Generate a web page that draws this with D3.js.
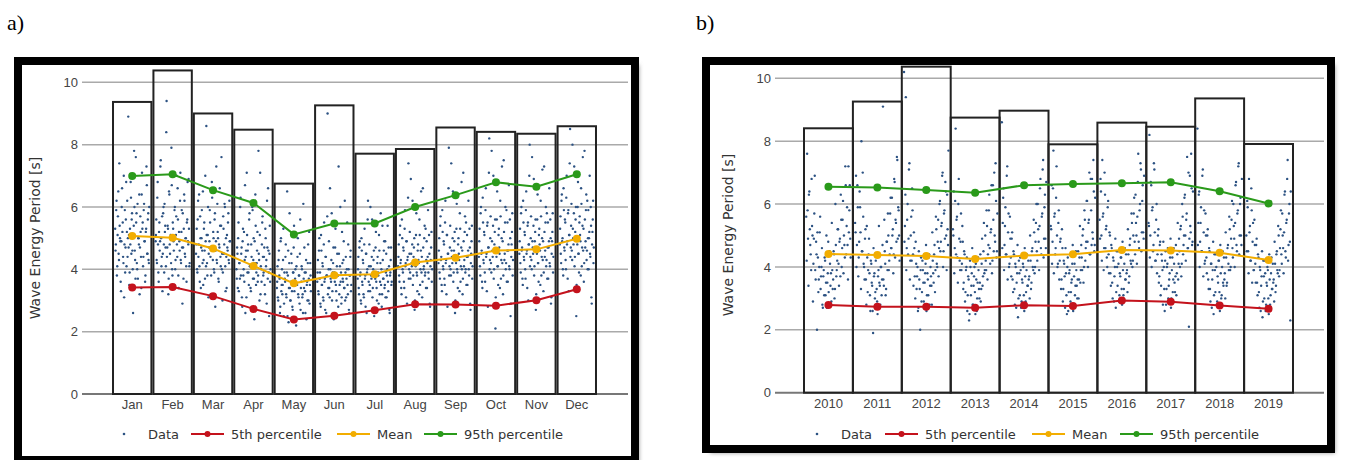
<!DOCTYPE html>
<html>
<head>
<meta charset="utf-8">
<script src="https://cdn.jsdelivr.net/npm/d3@7"></script>
<style>
  body { margin: 0; background: #fff; }
  svg { display: block; font-family: "DejaVu Sans", Verdana, sans-serif; }
</style>
</head>
<body>
<svg id="chart" width="1346" height="460"></svg>
<script>
// ---- panel a: by month ----
const months = ['Jan', 'Feb', 'Mar', 'Apr', 'May', 'Jun', 'Jul', 'Aug', 'Sep', 'Oct', 'Nov', 'Dec']
const monthMax = [9.37, 10.38, 9.0, 8.48, 6.75, 9.26, 7.71, 7.86, 8.55, 8.41, 8.35, 8.59]
const monthP5 = [3.42, 3.43, 3.14, 2.73, 2.39, 2.51, 2.69, 2.88, 2.87, 2.83, 3.01, 3.36]
const monthMean = [5.07, 5.01, 4.67, 4.11, 3.55, 3.81, 3.84, 4.22, 4.37, 4.6, 4.64, 4.98]
const monthP95 = [6.99, 7.05, 6.54, 6.13, 5.12, 5.47, 5.47, 6.0, 6.38, 6.79, 6.65, 7.05]
const monthData = [
  '5.3 4.8 6.2 4.1 5.7 4.5 7.4 5.0 3.6 4.9 6.6 5.5 4.2 3.1 5.9 4.7 6.8 5.2 4.4 8.9 5.1 3.9 4.8 6.3 5.6 4.6 2.6 5.4 6.0 4.3 7.6 5.8 4.0 3.7 5.0 6.4 4.7 5.2 3.4 7.1 5.5 4.4 6.1 4.9 3.8 5.3 6.7 4.5 5.8 4.2',
  '4.9 5.6 4.2 6.8 3.9 5.2 4.6 7.3 5.0 4.4 3.3 5.8 4.8 6.1 5.4 4.1 9.4 4.7 5.3 3.7 6.4 4.5 5.1 7.9 4.0 5.5 4.9 3.5 6.0 4.3 5.7 4.8 6.6 3.8 5.2 4.6 7.1 4.2 5.9 2.9 4.7 5.3 6.2 4.4 5.0 3.6 5.6 4.9 6.9 4.1',
  '4.5 5.3 3.9 6.2 4.8 4.1 5.7 3.4 5.0 4.6 6.5 4.3 5.5 3.7 4.9 8.6 4.2 5.1 3.1 4.7 5.9 4.4 3.8 6.8 4.6 5.2 4.0 5.6 2.8 4.9 4.3 6.1 5.0 3.6 4.7 5.4 4.1 7.6 4.5 3.9 5.3 4.8 6.0 3.3 4.4 5.1 4.6 5.8 4.2 4.9',
  '4.0 4.7 3.4 5.5 4.2 3.7 6.3 4.5 3.1 4.9 3.8 5.2 4.3 2.6 4.6 7.1 3.9 4.8 3.5 5.8 4.1 3.3 4.4 6.0 3.7 5.0 2.4 4.2 5.4 3.9 4.6 3.6 7.8 4.3 5.1 3.2 4.0 4.8 5.7 3.8 4.4 3.5 5.3 4.1 2.9 4.7 6.6 3.9 4.5 3.6',
  '3.4 4.1 3.0 4.6 3.7 2.8 5.0 3.5 3.2 4.3 2.5 3.9 3.6 4.8 3.1 6.5 3.8 2.3 4.2 3.4 3.0 4.5 3.3 2.7 3.9 5.4 3.6 4.0 2.2 3.5 4.4 3.2 3.8 2.9 5.6 3.4 4.1 3.1 2.6 3.7 4.7 3.3 3.9 2.4 3.6 4.2 3.0 5.2 3.5 3.8',
  '3.6 4.3 3.2 5.0 3.9 2.8 4.6 3.5 4.1 3.0 5.5 3.7 4.4 2.6 3.8 9.0 3.4 4.9 3.1 4.0 3.6 5.8 3.3 4.2 2.4 3.9 4.7 3.5 3.0 4.5 3.8 7.3 3.2 4.1 3.6 2.9 5.2 3.7 4.3 3.4 6.2 3.9 3.1 4.0 3.5 4.8 2.7 3.8 4.4 3.3',
  '3.7 4.4 3.2 4.9 3.9 2.9 4.6 3.5 4.2 3.1 5.3 3.8 4.5 2.6 4.0 6.2 3.6 4.8 3.3 4.1 3.7 5.6 3.4 4.3 2.5 3.9 4.7 3.6 3.0 4.4 3.8 5.1 3.2 4.2 3.5 2.8 5.4 3.7 4.6 3.4 4.9 3.9 3.1 4.0 3.6 4.7 2.7 3.8 4.3 3.5',
  '4.1 4.8 3.6 5.4 4.3 3.2 5.0 3.9 4.6 3.4 5.9 4.2 4.9 2.9 4.4 7.4 4.0 5.2 3.7 4.5 4.1 6.2 3.8 4.7 2.7 4.3 5.1 3.9 3.3 4.8 4.2 5.6 3.5 4.6 3.9 3.1 6.6 4.0 5.0 3.8 5.3 4.3 3.4 4.4 3.9 5.1 2.9 4.1 4.7 3.6',
  '4.2 5.0 3.7 5.7 4.4 3.3 5.2 4.0 4.8 3.5 6.2 4.3 5.1 2.8 4.5 7.9 4.1 5.4 3.8 4.6 4.2 6.5 3.9 4.9 2.6 4.4 5.3 4.0 3.4 5.0 4.3 5.8 3.6 4.7 4.0 3.2 7.1 4.1 5.2 3.9 5.5 4.4 3.5 4.6 4.0 5.3 2.9 4.2 4.9 3.7',
  '4.4 5.3 3.8 6.0 4.6 3.4 5.5 4.2 5.1 3.6 6.6 4.5 5.4 2.8 4.7 8.2 4.3 5.7 3.9 4.9 4.4 7.0 4.0 5.2 2.1 4.6 5.6 4.1 3.5 5.3 4.5 6.2 3.7 5.0 4.2 3.2 7.5 4.3 5.5 4.0 5.9 4.6 3.6 4.8 4.1 5.6 2.5 4.4 5.2 3.8',
  '4.5 5.3 3.9 6.0 4.7 3.5 5.5 4.3 5.1 3.7 6.5 4.6 5.4 3.0 4.8 8.0 4.4 5.7 4.0 4.9 4.5 6.9 4.1 5.2 2.7 4.6 5.6 4.2 3.6 5.3 4.6 6.2 3.8 5.0 4.3 3.3 7.3 4.4 5.5 4.1 5.8 4.7 3.7 4.9 4.2 5.6 2.9 4.5 5.2 3.9',
  '4.8 5.7 4.2 6.4 5.0 3.8 5.9 4.6 5.5 4.0 7.0 4.9 5.8 3.3 5.1 8.5 4.7 6.1 4.3 5.3 4.8 7.3 4.4 5.6 2.5 5.0 6.0 4.5 3.9 5.7 4.9 6.6 4.1 5.4 4.6 3.6 7.8 4.7 5.9 4.3 6.2 5.0 4.0 5.2 4.5 6.0 3.1 4.8 5.6 4.2'
]
const monthData2 = [
  '4.6 5.9 3.8 5.1 6.5 4.3 5.4 4.9 3.3 6.0 5.2 4.4 7.0 4.8 3.9 5.6 4.1 6.2 5.0 4.7 3.5 5.3 6.8 4.5 5.8 4.0 5.1 7.8 4.6 3.7 5.5 4.2 6.1 5.0 4.8 3.2 5.7 4.4 6.4 5.3 4.1 5.9 4.9 3.6 5.2 7.3 4.5 5.6 4.3 6.0',
  '5.1 4.3 6.3 4.8 3.6 5.5 4.9 7.5 4.1 5.7 4.5 6.0 3.9 5.2 4.7 8.4 4.4 5.4 3.2 6.5 4.8 5.0 4.2 6.7 3.8 5.3 4.6 5.9 4.0 5.1 7.0 4.4 5.6 3.4 4.9 6.2 4.3 5.2 4.7 5.8 3.7 6.4 4.5 5.0 4.1 5.5 6.8 4.8 5.3 4.2',
  '4.8 4.0 5.6 4.4 6.4 3.6 5.0 4.7 5.9 4.2 3.5 5.3 4.6 7.0 4.1 5.1 3.8 6.0 4.5 4.9 5.5 3.2 4.7 6.3 4.3 5.0 3.9 5.8 4.6 7.3 4.2 5.2 3.7 4.8 6.6 4.4 5.4 4.0 3.0 5.7 4.5 6.1 4.1 5.0 3.4 4.7 5.5 4.3 6.2 4.9',
  '3.7 4.5 5.0 3.3 4.2 6.0 3.8 4.7 2.8 5.3 4.0 3.6 6.7 4.4 3.1 5.1 4.6 3.9 5.6 4.1 3.4 4.8 2.7 5.9 4.3 3.7 4.9 6.4 3.5 4.2 5.2 3.8 4.5 3.0 7.1 4.1 3.6 5.5 4.4 3.9 4.7 3.2 5.0 4.3 6.2 3.7 4.6 2.5 5.4 4.0',
  '3.6 3.1 4.3 3.8 2.6 4.9 3.3 4.0 3.5 5.3 2.9 3.7 4.4 3.2 3.9 2.5 4.6 3.4 5.8 3.0 3.6 4.2 2.8 3.9 4.7 3.3 3.7 2.4 4.1 3.5 5.0 3.1 3.8 4.5 2.7 3.6 4.0 3.2 6.1 3.4 3.9 2.6 4.3 3.5 3.0 4.8 3.7 2.9 4.2 3.3',
  '3.9 3.3 4.6 3.7 2.9 5.1 3.5 4.2 3.1 4.8 3.6 2.7 4.4 3.8 5.7 3.2 4.0 3.4 6.6 3.7 4.3 3.0 3.9 4.7 2.5 3.6 5.3 3.3 4.1 3.8 2.8 4.5 3.5 6.0 3.9 3.1 4.2 3.6 4.9 3.4 3.0 4.4 3.7 5.5 3.2 4.0 2.6 3.8 4.6 3.5',
  '4.0 3.4 4.7 3.8 3.0 5.0 3.6 4.3 3.2 4.8 3.7 2.8 4.5 3.9 5.6 3.3 4.1 3.5 6.0 3.8 4.4 3.1 4.0 4.6 2.7 3.7 5.2 3.4 4.2 3.9 2.9 4.6 3.6 5.8 4.0 3.2 4.3 3.7 4.9 3.5 3.1 4.5 3.8 5.4 3.3 4.1 2.6 3.9 4.7 3.6',
  '4.4 3.8 5.1 4.2 3.4 5.6 4.0 4.7 3.6 5.3 4.1 3.1 4.9 4.3 6.3 3.7 4.5 3.9 6.9 4.2 4.8 3.5 4.4 5.0 3.0 4.1 5.8 3.8 4.6 4.3 3.2 5.1 4.0 6.5 4.4 3.6 4.7 4.1 5.4 3.9 3.4 4.9 4.2 5.9 3.7 4.5 2.8 4.3 5.2 4.0',
  '4.6 3.9 5.4 4.3 3.5 5.9 4.1 4.9 3.7 5.5 4.2 3.2 5.1 4.5 6.6 3.8 4.7 4.0 7.4 4.4 5.0 3.6 4.6 5.2 3.0 4.2 6.1 3.9 4.8 4.5 3.3 5.3 4.1 6.8 4.6 3.7 4.9 4.3 5.7 4.0 3.5 5.1 4.4 6.2 3.8 4.7 2.7 4.5 5.4 4.1',
  '4.9 4.1 5.8 4.5 3.6 6.3 4.3 5.2 3.9 5.9 4.4 3.3 5.5 4.7 7.1 4.0 5.0 4.2 7.8 4.6 5.4 3.7 4.8 5.6 3.1 4.4 6.5 4.1 5.1 4.7 3.4 5.7 4.3 7.3 4.9 3.8 5.2 4.5 6.0 4.2 3.6 5.5 4.6 6.7 4.0 5.0 2.9 4.8 5.8 4.3',
  '4.9 4.2 5.8 4.6 3.7 6.2 4.4 5.2 4.0 5.9 4.5 3.4 5.5 4.8 7.0 4.1 5.0 4.3 7.6 4.7 5.4 3.8 4.9 5.6 3.2 4.5 6.4 4.2 5.1 4.8 3.5 5.7 4.4 7.2 4.9 3.9 5.2 4.6 6.0 4.3 3.7 5.5 4.7 6.6 4.1 5.0 3.1 4.9 5.8 4.4',
  '5.3 4.5 6.2 4.9 4.0 6.6 4.7 5.6 4.3 6.3 4.8 3.7 5.9 5.1 7.4 4.4 5.4 4.6 8.0 5.0 5.8 4.1 5.2 6.0 3.5 4.8 6.8 4.5 5.5 5.1 3.8 6.1 4.7 7.6 5.3 4.2 5.6 4.9 6.4 4.6 4.0 5.9 5.0 7.0 4.4 5.4 2.9 5.2 6.2 4.7'
]

// ---- panel b: by year ----
const years = ['2010', '2011', '2012', '2013', '2014', '2015', '2016', '2017', '2018', '2019']
const yearMax = [8.41, 9.26, 10.37, 8.75, 8.97, 7.9, 8.59, 8.46, 9.36, 7.91]
const yearP5 = [2.79, 2.73, 2.73, 2.7, 2.78, 2.76, 2.93, 2.89, 2.77, 2.67]
const yearMean = [4.41, 4.38, 4.35, 4.25, 4.36, 4.4, 4.54, 4.52, 4.45, 4.22]
const yearP95 = [6.55, 6.53, 6.45, 6.36, 6.6, 6.64, 6.66, 6.69, 6.41, 6.02]
const yearData = [
  '5.6 7.6 4.9 6.3 5.2 4.4 6.8 5.0 4.1 5.7 3.9 4.8 2.0 4.3 3.6 5.1 3.3 4.0 2.8 3.7 3.1 4.2 3.5 2.7 3.8 3.2 4.5 3.4 2.9 3.9 3.6 4.4 3.3 4.7 3.9 5.2 4.1 4.8 3.7 5.5 4.6 6.1 5.0 4.3 6.6 5.3 4.7 7.2 5.8 4.9',
  '5.4 6.9 4.7 5.9 4.3 6.4 5.1 8.0 4.5 5.6 4.0 4.9 3.6 5.3 3.2 4.4 3.8 2.6 4.1 3.4 1.9 3.7 3.0 4.2 3.3 2.5 3.9 3.5 2.8 4.0 3.6 9.1 3.4 4.5 3.1 4.8 3.9 5.0 4.2 5.7 4.6 6.2 5.2 4.4 6.7 5.5 4.8 7.4 5.9 5.0',
  '10.2 5.3 9.4 4.6 6.0 4.9 7.3 4.2 5.6 6.5 4.4 5.1 3.7 4.8 3.3 4.0 2.7 3.6 2.0 4.3 3.2 3.9 2.9 3.5 4.1 2.6 3.8 3.1 4.4 3.4 3.7 2.8 4.2 3.5 4.7 3.9 5.2 4.0 5.5 4.6 6.1 4.8 5.4 7.0 4.5 5.8 6.7 5.0 6.3 4.7',
  '5.2 6.4 4.6 8.4 5.5 4.3 6.0 4.9 3.9 5.7 4.1 4.8 3.5 4.4 3.2 4.0 2.6 3.7 2.3 4.2 3.1 3.8 2.8 3.4 4.0 2.5 3.6 3.0 4.3 3.3 3.5 2.9 4.1 3.4 4.5 3.8 5.0 3.9 5.3 4.4 5.8 4.6 5.1 6.6 4.2 5.5 7.0 4.8 6.1 4.5',
  '8.6 5.4 6.5 4.7 5.9 4.4 7.2 5.1 4.0 5.6 4.3 4.9 3.6 4.5 3.3 4.1 2.7 3.8 2.4 4.2 3.1 3.9 2.9 3.5 4.0 2.6 3.7 3.2 4.4 3.4 3.6 3.0 4.2 3.5 4.6 3.9 5.1 4.0 5.4 4.5 6.0 4.8 5.3 6.8 4.4 5.7 7.4 4.9 6.3 4.6',
  '5.3 6.6 4.8 7.7 5.6 4.4 6.2 5.0 4.1 5.8 4.2 4.9 3.6 4.6 3.3 4.1 2.7 3.8 2.5 4.3 3.2 3.9 2.9 3.5 4.1 2.6 3.7 3.1 4.5 3.4 3.6 3.0 4.3 3.5 4.7 3.9 5.2 4.0 5.5 4.6 6.1 4.8 5.4 7.0 4.4 5.8 6.8 4.9 6.4 4.7',
  '5.5 6.8 5.0 7.4 5.7 4.6 6.3 5.2 4.3 5.9 4.4 5.1 3.8 4.7 3.5 4.3 2.9 4.0 2.7 4.5 3.4 4.1 3.1 3.7 4.3 2.8 3.9 3.3 4.6 3.6 3.8 3.2 4.4 3.7 4.9 4.1 5.4 4.2 5.7 4.8 6.3 5.0 5.6 7.6 4.6 6.0 7.1 5.1 6.6 4.9',
  '5.4 8.2 5.0 6.6 5.8 4.5 7.3 5.1 4.2 6.0 4.4 5.2 3.7 4.8 3.4 4.2 2.8 4.0 2.6 4.5 3.3 4.1 3.0 3.6 4.3 2.7 3.9 3.2 4.6 3.5 3.7 3.1 4.4 3.6 4.9 4.0 5.3 4.1 5.6 4.7 6.2 5.0 5.5 7.5 4.6 2.1 6.9 5.1 6.5 4.8',
  '8.4 5.4 6.4 4.8 5.9 4.5 7.1 5.1 4.1 5.7 4.3 5.0 3.6 4.6 3.3 4.1 2.7 3.9 2.5 4.4 3.2 4.0 2.9 3.5 4.2 2.6 3.8 3.1 4.5 3.4 3.6 3.0 4.3 3.5 4.7 3.9 5.2 4.0 5.5 4.6 6.0 4.9 5.4 6.7 4.5 5.8 7.3 5.0 6.2 4.7',
  '5.0 6.1 4.5 6.8 5.3 4.2 5.8 4.8 3.9 5.5 4.1 4.7 3.5 4.4 3.2 4.0 2.6 3.7 2.4 4.2 3.0 3.8 2.8 3.4 3.9 2.5 3.6 3.1 4.3 3.3 3.5 2.9 4.1 3.4 4.5 3.8 5.0 3.9 5.2 4.4 5.7 4.6 5.1 6.4 4.3 5.5 7.4 4.7 6.0 2.3'
]
const yearData2 = [
  '4.2 5.8 3.4 6.4 4.7 3.9 5.3 2.9 4.9 6.9 3.6 4.4 5.1 3.2 4.0 5.6 3.7 4.6 2.7 3.9 4.3 3.1 5.0 3.5 4.8 2.8 4.1 3.8 5.4 3.3 4.5 3.0 6.0 3.7 4.2 5.2 3.4 4.9 6.3 4.0 5.5 3.8 4.7 7.2 4.4 5.9 3.6 5.1 6.6 4.3',
  '5.1 4.0 6.6 3.7 4.8 5.9 3.3 4.5 7.0 4.1 3.6 5.2 2.8 4.3 3.9 4.9 3.1 4.2 3.5 2.6 4.6 3.8 3.2 4.4 2.9 3.7 5.3 3.4 4.0 3.1 4.7 3.6 5.5 4.1 3.3 4.8 5.7 3.9 4.4 6.2 4.6 5.0 3.8 6.8 4.3 5.4 7.5 4.9 5.8 4.2',
  '4.8 6.3 3.9 5.5 4.4 7.1 3.6 5.0 4.2 5.8 3.4 4.6 3.0 4.1 3.7 2.6 4.5 3.3 3.9 2.9 4.2 3.5 2.7 3.8 4.7 3.1 3.6 4.3 2.8 4.0 3.4 5.1 3.8 4.4 3.2 5.6 4.1 4.8 3.7 6.0 4.5 5.3 6.9 4.0 5.7 4.9 6.4 3.9 5.2 7.7',
  '5.0 3.8 6.1 4.4 5.6 3.5 6.8 4.2 4.8 3.9 5.3 3.3 4.5 2.9 3.9 4.3 3.1 3.6 2.5 4.0 3.4 4.6 2.8 3.7 3.2 4.1 2.6 3.5 3.9 3.0 4.4 3.3 4.9 3.7 5.4 3.9 4.2 5.8 3.6 4.7 6.3 4.1 5.2 3.8 6.6 4.5 5.0 7.3 4.3 5.7',
  '4.6 6.2 3.9 5.3 4.4 6.9 3.6 5.7 4.1 4.9 3.7 5.1 3.2 4.4 2.8 4.0 3.5 4.7 3.0 3.8 4.3 2.7 3.6 4.1 3.1 4.6 2.9 3.9 3.4 4.2 3.7 5.0 3.3 4.5 4.0 5.5 3.8 4.8 6.0 4.2 5.2 3.9 6.5 4.6 5.6 7.1 4.3 5.9 4.9 6.7',
  '5.2 4.1 6.5 3.8 5.7 4.6 7.2 4.0 5.4 3.6 4.8 3.3 5.2 2.9 4.2 3.7 4.6 3.1 4.0 2.6 3.8 4.4 3.2 3.6 4.7 2.8 4.1 3.4 3.9 3.0 4.5 3.6 5.3 3.9 4.3 5.0 3.5 5.8 4.2 4.8 6.1 4.0 5.5 4.4 6.8 4.7 5.1 7.4 4.5 6.2',
  '4.9 6.4 4.2 5.6 3.9 7.0 4.6 5.3 4.0 6.1 3.8 5.0 3.4 4.6 3.0 4.2 3.7 4.9 3.2 4.0 4.5 2.9 3.8 4.3 3.3 4.8 3.1 4.1 3.6 4.4 3.9 5.2 3.5 4.7 4.2 5.7 4.0 5.0 6.2 4.4 5.4 4.1 6.7 4.8 5.8 7.3 4.5 6.1 5.1 6.9',
  '5.3 4.3 6.7 4.0 5.9 4.7 7.1 4.2 5.5 3.8 5.0 3.5 4.7 3.1 4.4 3.9 4.8 3.3 4.2 2.8 4.0 4.6 3.4 3.8 4.9 3.0 4.3 3.6 4.1 3.2 4.7 3.8 5.4 4.1 4.5 5.2 3.7 6.0 4.4 5.0 6.3 4.2 5.7 4.6 7.0 4.9 5.3 7.6 4.7 6.4',
  '4.7 6.3 4.0 5.4 4.5 6.9 3.7 5.8 4.2 5.0 3.8 5.2 3.3 4.5 2.9 4.1 3.6 4.8 3.1 3.9 4.4 2.8 3.7 4.2 3.2 4.7 3.0 4.0 3.5 4.3 3.8 5.1 3.4 4.6 4.1 5.6 3.9 4.9 6.1 4.3 5.3 4.0 6.6 4.7 5.7 7.2 4.4 6.0 5.0 6.8',
  '4.5 5.9 3.8 5.1 4.2 6.5 3.5 5.4 3.9 4.7 3.5 4.9 3.1 4.3 2.7 3.9 3.4 4.5 2.9 3.7 4.2 2.6 3.5 4.0 3.0 4.4 2.8 3.8 3.3 4.1 3.6 4.8 3.2 4.4 3.9 5.3 3.7 4.6 5.8 4.1 5.0 3.8 6.3 4.5 5.4 6.8 4.2 5.7 4.8 6.4'
]

const yTicks = [0, 2, 4, 6, 8, 10]
const legendItems = ['Data', '5th percentile', 'Mean', '95th percentile']

const C_P5 = '#c4121c'
const C_MEAN = '#f2ad00'
const C_P95 = '#2a9a1a'
const C_DOT = '#2c5283'

const svg = d3.select('#chart')

const defs = svg.append('defs')
defs.append('filter').attr('id', 'blur')
  .append('feGaussianBlur').attr('stdDeviation', 2)

function drawPanel(opt) {
  const g = svg.append('g')

  // shadow + frame
  g.append('rect')
    .attr('x', opt.frame[0] + 4).attr('y', opt.frame[1] + 4)
    .attr('width', opt.frame[2]).attr('height', opt.frame[3])
    .attr('fill', '#999').attr('filter', 'url(#blur)')
  g.append('rect')
    .attr('x', opt.frame[0]).attr('y', opt.frame[1])
    .attr('width', opt.frame[2]).attr('height', opt.frame[3])
    .attr('fill', '#fff').attr('stroke', '#000').attr('stroke-width', 8)

  g.append('text')
    .attr('x', opt.label[0]).attr('y', opt.label[1])
    .style('font-family', '"Liberation Serif", "Times New Roman", serif')
    .style('font-size', '22px')
    .text(opt.labelText)

  const x = d3.scaleBand()
    .domain(opt.cats)
    .range(opt.xRange)
    .paddingInner(opt.pad)
    .paddingOuter(opt.pad / 2)

  const y = d3.scaleLinear()
    .domain([0, 10])
    .range(opt.yRange)

  // grid
  g.append('g')
    .selectAll('line')
    .data(yTicks)
    .enter()
    .append('line')
    .attr('x1', opt.gridX[0]).attr('x2', opt.gridX[1])
    .attr('y1', d => y(d)).attr('y2', d => y(d))
    .attr('stroke', d => d === 0 ? '#777' : '#aaa')
    .attr('stroke-width', d => d === 0 ? 2 : 1.5)

  const leftAxis = d3.axisLeft(y).tickValues(yTicks).tickSize(0).tickPadding(4)
  const ya = g.append('g')
    .attr('transform', `translate(${opt.gridX[0]},0)`)
    .call(leftAxis)
  ya.select('.domain').remove()
  ya.selectAll('text').style('font-size', '13px').attr('fill', '#444')

  // bars
  g.append('g')
    .selectAll('rect')
    .data(opt.cats)
    .enter()
    .append('rect')
    .attr('x', d => x(d))
    .attr('y', (d, i) => y(opt.max[i]))
    .attr('width', x.bandwidth())
    .attr('height', (d, i) => y(0) - y(opt.max[i]))
    .attr('fill', 'none')
    .attr('stroke', '#222')
    .attr('stroke-width', 2)

  // scattered data, second set sits between the first one
  const pts = []
  ;[opt.data, opt.data2].forEach((set, r) => {
    set.forEach((s, i) => {
      const vals = s.split(' ').map(Number)
      vals.forEach((v, j) => {
        pts.push({ cat: opt.cats[i], k: (j + 0.25 + r * 0.5) / vals.length, v: v })
      })
    })
  })
  g.append('g')
    .selectAll('circle')
    .data(pts)
    .enter()
    .append('circle')
    .attr('cx', d => x(d.cat) + 2 + d.k * (x.bandwidth() - 4))
    .attr('cy', d => y(d.v))
    .attr('r', 1.2)
    .attr('fill', C_DOT)

  const bottomAxis = d3.axisBottom(x).tickSize(0).tickPadding(6)
  const xa = g.append('g')
    .attr('transform', `translate(0,${y(0)})`)
    .call(bottomAxis)
  xa.select('.domain').remove()
  xa.selectAll('text').style('font-size', '13px').attr('fill', '#444')

  // percentile / mean lines
  const series = [
    { vals: opt.p5, color: C_P5 },
    { vals: opt.mean, color: C_MEAN },
    { vals: opt.p95, color: C_P95 }
  ]
  const line = d3.line()
    .x((d, i) => x(opt.cats[i]) + x.bandwidth() / 2)
    .y(d => y(d))
  series.forEach(s => {
    g.append('path')
      .datum(s.vals)
      .attr('d', line)
      .attr('fill', 'none')
      .attr('stroke', s.color)
      .attr('stroke-width', 2)
    g.append('g')
      .selectAll('circle')
      .data(s.vals)
      .enter()
      .append('circle')
      .attr('cx', (d, i) => x(opt.cats[i]) + x.bandwidth() / 2)
      .attr('cy', d => y(d))
      .attr('r', 4)
      .attr('fill', s.color)
  })

  // y title
  g.append('text')
    .attr('transform', `translate(${opt.yTitle[0]},${opt.yTitle[1]}) rotate(-90)`)
    .attr('text-anchor', 'middle')
    .style('font-size', '14px')
    .attr('fill', '#333')
    .text('Wave Energy Period [s]')

  // legend
  const lg = g.append('g').attr('transform', `translate(0,${opt.legendY})`)
  const colors = [C_DOT, C_P5, C_MEAN, C_P95]
  legendItems.forEach((name, i) => {
    const lx = opt.legendX[i]
    if (i === 0) {
      lg.append('circle').attr('cx', lx + 16).attr('cy', 0).attr('r', 1.3).attr('fill', C_DOT)
    } else {
      lg.append('line').attr('x1', lx).attr('x2', lx + 33).attr('y1', 0).attr('y2', 0)
        .attr('stroke', colors[i]).attr('stroke-width', 2)
      lg.append('circle').attr('cx', lx + 16.5).attr('cy', 0).attr('r', 3).attr('fill', colors[i])
    }
    lg.append('text')
      .attr('x', lx + 40).attr('y', 0).attr('dy', '0.35em')
      .style('font-size', '13px').attr('fill', '#333')
      .text(name)
  })
}

drawPanel({
  frame: [18, 61, 617, 399],
  label: [7, 30], labelText: 'a)',
  cats: months, max: monthMax, p5: monthP5, mean: monthMean, p95: monthP95,
  data: monthData, data2: monthData2,
  xRange: [112, 597], pad: 0.05,
  yRange: [394, 82.3],
  gridX: [82, 628],
  yTitle: [40, 238],
  legendY: 434,
  legendX: [108, 191, 337, 424]
})

drawPanel({
  frame: [706, 61, 625, 388],
  label: [696, 30], labelText: 'b)',
  cats: years, max: yearMax, p5: yearP5, mean: yearMean, p95: yearP95,
  data: yearData, data2: yearData2,
  xRange: [804, 1293], pad: 0,
  yRange: [392.7, 78.3],
  gridX: [775, 1324],
  yTitle: [733, 235],
  legendY: 434,
  legendX: [801, 885, 1032, 1120]
})
</script>
</body>
</html>
